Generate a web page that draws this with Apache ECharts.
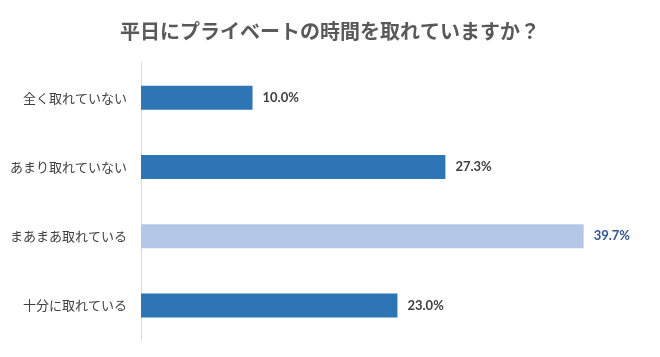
<!DOCTYPE html>
<html><head><meta charset="utf-8">
<script src="https://cdn.jsdelivr.net/npm/echarts@6/dist/echarts.min.js"></script>
<style>html,body{margin:0;padding:0;background:#fff}#c{width:660px;height:357px}</style>
</head><body><div id="c"></div>
<script>
const titleText = '平日にプライベートの時間を取れていますか？';
const categories = ['全く取れていない', 'あまり取れていない', 'まあまあ取れている', '十分に取れている'];
const values = [10.0, 27.3, 39.7, 23.0];
const highlightIndex = 2;

const chart = echarts.init(document.getElementById('c'), null, {renderer: 'canvas'});
chart.setOption({
  animation: false,
  title: {
    text: titleText, left: 'center', top: 16,
    textStyle: {fontFamily: 'Noto Sans CJK JP', fontSize: 20, fontWeight: 'bold', color: '#595959'}
  },
  grid: {left: 141, top: 63, width: 446, height: 277, containLabel: false},
  xAxis: {type: 'value', min: 0, max: 40, show: false},
  yAxis: {
    type: 'category', data: categories, inverse: true,
    axisLine: {show: true, lineStyle: {color: '#d9d9d9', width: 1}},
    axisTick: {show: false},
    axisLabel: {margin: 14, fontFamily: 'Noto Sans CJK JP', fontSize: 13, color: '#404040'}
  },
  series: [{
    type: 'bar',
    barWidth: 24,
    data: values.map((v, i) => ({
      value: v,
      itemStyle: {color: i === highlightIndex ? '#B4C7E7' : '#2E75B6'},
      label: {color: i === highlightIndex ? '#2F5597' : '#404040'}
    })),
    label: {
      show: true, position: 'right', distance: 10,
      formatter: p => p.value.toFixed(1) + '%',
      fontFamily: 'Lato', fontWeight: 'bold', fontSize: 13
    }
  }]
});
</script></body></html>
